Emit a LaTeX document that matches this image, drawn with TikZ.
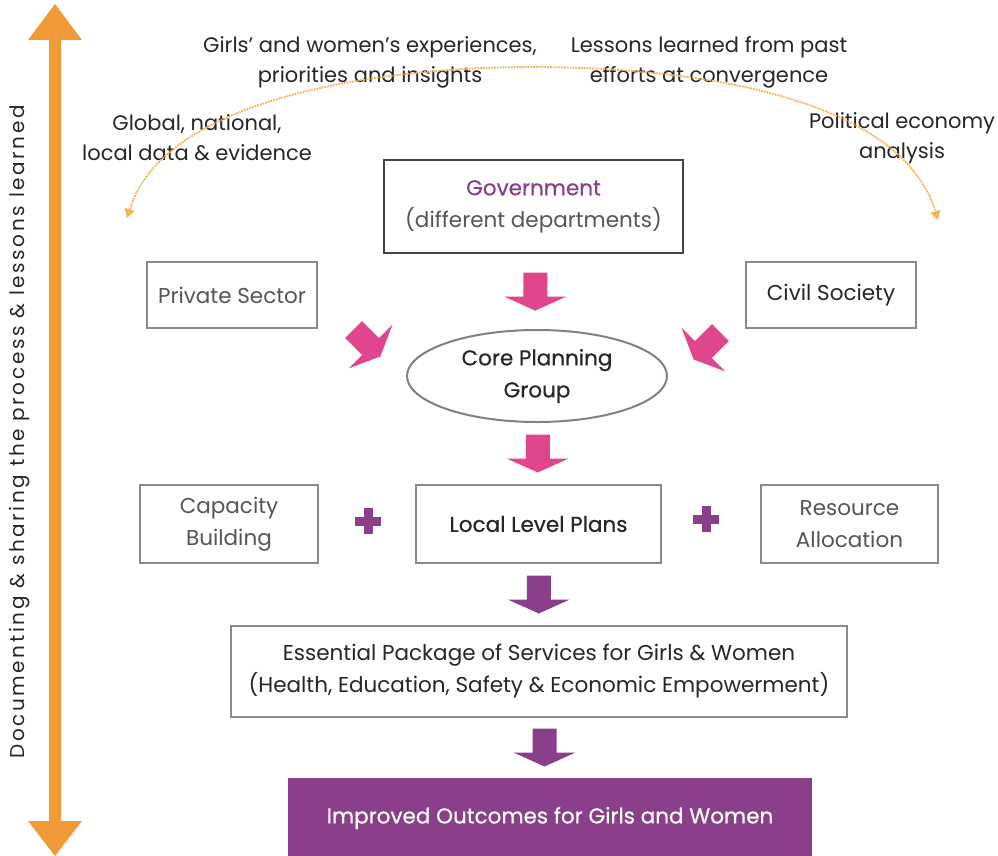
\documentclass[tikz,border=0pt]{standalone}
\usepackage{fontspec}
\setmainfont{Poppins}
\newfontfamily\medfont[FakeBold=0.5]{Poppins}
\newfontfamily\sidefont[LetterSpace=13]{Poppins}
\usepackage{xcolor}
\usetikzlibrary{shapes.geometric}
\usetikzlibrary{arrows.meta,calc}

\definecolor{pinkarr}{HTML}{E0468E}
\definecolor{purp}{HTML}{8B3F8B}
\definecolor{orangearr}{HTML}{F29A38}
\definecolor{dotorange}{HTML}{F6B356}
\definecolor{txtgray}{HTML}{555555}
\definecolor{txtdark}{HTML}{262626}
\definecolor{boxgray}{HTML}{8A8A8A}
\definecolor{govgray}{HTML}{444444}

\tikzset{
  box/.style={draw=boxgray, line width=2pt, fill=white, align=center, text=txtgray,
    font=\fontsize{21.5}{32}\selectfont, inner sep=0pt},
  lbl/.style={align=center, text=txtdark, font=\fontsize{21}{30}\selectfont},
  pics/blockarrow/.style={code={%
    \fill (-12,-19) -- (12,-19) -- (12,5) -- (31,5) -- (0,19) -- (-31,5) -- (-12,5) -- cycle;}},
  pics/plussign/.style={code={%
    \fill (-13,-4.5) rectangle (13,4.5);
    \fill (-4.5,-13) rectangle (4.5,13);}}
}

\begin{document}
\begin{tikzpicture}[x=1pt,y=-1pt]
\useasboundingbox (0,0) rectangle (998,856);

% side arrow
\fill[orangearr] (55,4) -- (82,40) -- (61,40) -- (61,821) -- (82,821) -- (55,856)
  -- (28,821) -- (49,821) -- (49,40) -- (28,40) -- cycle;
\node[rotate=90, text=txtdark, font=\sidefont\fontsize{20}{24}\selectfont] (side) at (20,432)
  {Documenting \& sharing the process \& lessons learned};

% inputs
\node[lbl] (girls) at (370,62) {Girls’ and women’s experiences,\\priorities and insights};
\node[lbl] (lessons) at (709,62) {Lessons learned from past\\efforts at convergence};
\node[lbl] (data) at (197,138) {Global, national,\\local data \& evidence};
\node[lbl] (pol) at (902,138) {Political economy\\analysis};
\coordinate (arcL) at (127,218);
\coordinate (arcTop) at (540,67);
\coordinate (arcR) at (938,220);
\draw[dotorange, line width=1.8pt, densely dotted, {Triangle[length=9pt,width=10pt]}-{Triangle[length=9pt,width=10pt]}]
  (arcL) .. controls (165,95) and (390,66) .. (arcTop)
  .. controls (690,68) and (900,95) .. (arcR);

% actors
\node[box, draw=govgray, line width=2.5pt, minimum width=299pt, minimum height=93pt] (gov) at (533.5,206.5)
  {{\medfont\color{purp}Government}\\(different departments)};
\node[box, minimum width=170pt, minimum height=66pt] (priv) at (232,295) {Private Sector};
\node[box, minimum width=170pt, minimum height=66pt, text=txtdark] (civil) at (831,295) {Civil Society};
\node[box, ellipse, draw=gray, minimum width=260pt, minimum height=92pt, text=txtdark] (core) at (537,376)
  {\medfont Core Planning\\\medfont Group};

\fill[pinkarr] ($(gov.south)!0.5!(core.north)$) pic {blockarrow};
\fill[pinkarr] (367,343) pic[rotate=45] {blockarrow};
\fill[pinkarr] (707,346) pic[rotate=-45] {blockarrow};

% plans
\node[box, minimum width=178pt, minimum height=78pt] (cap) at (229,524) {Capacity\\Building};
\node[box, minimum width=245pt, minimum height=78pt, text=txtdark] (local) at (538.5,524) {\medfont Local Level Plans};
\node[box, minimum width=177pt, minimum height=78pt] (res) at (849.5,524) {Resource\\Allocation};
\fill[purp] (368,521) pic {plussign};
\fill[purp] (706,519) pic {plussign};
\fill[pinkarr] ($(core.south)!0.5!(local.north)$) pic {blockarrow};

% services and outcomes
\node[box, minimum width=616pt, minimum height=91pt, text=txtdark] (ess) at (539,671.5)
  {Essential Package of Services for Girls \& Women\\(Health, Education, Safety \& Economic Empowerment)};
\node[box, draw=none, fill=purp, text=white, minimum width=524pt, minimum height=80pt] (out) at (550,818)
  {\medfont Improved Outcomes for Girls and Women};
\fill[purp] ($(local.south)!0.5!(ess.north)$) pic {blockarrow};
\fill[purp] ($(ess.south)!0.5!(out.north)$) pic {blockarrow};
\end{tikzpicture}
\end{document}
